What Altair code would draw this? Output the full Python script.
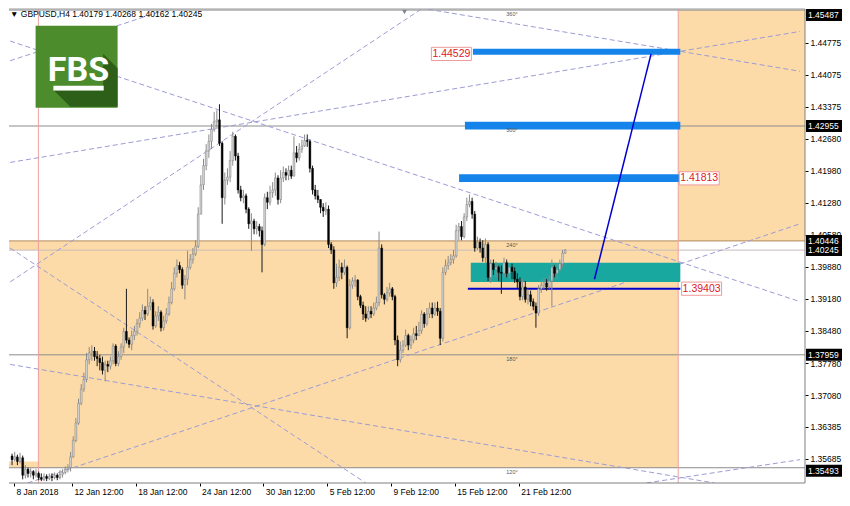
import altair as alt
import pandas as pd

# ------------------------------------------------------------------ data
TITLE = "▼ GBPUSD,H4  1.40179 1.40268 1.40162 1.40245"

FIRST_OPEN = 1.3575
CLOSES = [
    1.3567, 1.3573, 1.3563, 1.3571, 1.3533, 1.3546, 1.3537, 1.3541, 1.3533, 1.3537,
    1.3528, 1.3524, 1.3530, 1.3526, 1.3530, 1.3528, 1.3533, 1.3528, 1.3535, 1.3539,
    1.3546, 1.3550, 1.3573, 1.3609, 1.3647, 1.3690, 1.3721, 1.3742, 1.3785, 1.3800,
    1.3804, 1.3792, 1.3788, 1.3779, 1.3762, 1.3775, 1.3771, 1.3783, 1.3815, 1.3777,
    1.3792, 1.3813, 1.3847, 1.3828, 1.3819, 1.3838, 1.3847, 1.3864, 1.3876, 1.3893,
    1.3885, 1.3902, 1.3910, 1.3859, 1.3881, 1.3889, 1.3855, 1.3870, 1.3885, 1.3910,
    1.3940, 1.3974, 1.3991, 1.3982, 1.3948, 1.3961, 1.3987, 1.4004, 1.4016, 1.4033,
    1.4103, 1.4167, 1.4209, 1.4241, 1.4262, 1.4288, 1.4305, 1.4309, 1.4258, 1.4139,
    1.4177, 1.4184, 1.4220, 1.4273, 1.4230, 1.4156, 1.4139, 1.4143, 1.4114, 1.4082,
    1.4088, 1.4071, 1.4076, 1.4067, 1.4037, 1.4139, 1.4129, 1.4150, 1.4156, 1.4182,
    1.4135, 1.4182, 1.4194, 1.4188, 1.4199, 1.4186, 1.4237, 1.4226, 1.4245, 1.4252,
    1.4264, 1.4262, 1.4203, 1.4156, 1.4143, 1.4135, 1.4118, 1.4110, 1.4114, 1.4037,
    1.4025, 1.3953, 1.3965, 1.3987, 1.3976, 1.3987, 1.3855, 1.3948, 1.3957, 1.3959,
    1.3923, 1.3904, 1.3885, 1.3876, 1.3891, 1.3885, 1.3898, 1.3910, 1.4029, 1.3927,
    1.3917, 1.3931, 1.3940, 1.3923, 1.3828, 1.3785, 1.3806, 1.3817, 1.3838, 1.3817,
    1.3828, 1.3842, 1.3838, 1.3849, 1.3885, 1.3864, 1.3885, 1.3898, 1.3885, 1.3898,
    1.3891, 1.3832, 1.3976, 1.3991, 1.3997, 1.4004, 1.4012, 1.4067, 1.4076, 1.4054,
    1.4097, 1.4124, 1.4131, 1.4103, 1.4029, 1.4042, 1.4029, 1.4008, 1.4037, 1.3965,
    1.3995, 1.3982, 1.3987, 1.3976, 1.3974, 1.3997, 1.3974, 1.3987, 1.3978, 1.3961,
    1.3955, 1.3923, 1.3944, 1.3917, 1.3927, 1.3912, 1.3902, 1.3887, 1.3940, 1.3948,
    1.3953, 1.3944, 1.3957, 1.3987, 1.3974, 1.3982, 1.3995, 1.4018, 1.40245,
]
HIGHS = [
    1.3580, 1.3584, 1.3578, 1.3582, 1.3576, 1.3555, 1.3550, 1.3548, 1.3544, 1.3546,
    1.3541, 1.3537, 1.3537, 1.3535, 1.3537, 1.3537, 1.3539, 1.3537, 1.3544, 1.3546,
    1.3552, 1.3557, 1.3584, 1.3618, 1.3658, 1.3700, 1.3732, 1.3757, 1.3800, 1.3813,
    1.3817, 1.3813, 1.3804, 1.3796, 1.3792, 1.3783, 1.3783, 1.3792, 1.3821, 1.3819,
    1.3804, 1.3821, 1.3855, 1.3940, 1.3834, 1.3849, 1.3859, 1.3874, 1.3889, 1.3906,
    1.3902, 1.3940, 1.3923, 1.3917, 1.3891, 1.3902, 1.3893, 1.3881, 1.3898, 1.3923,
    1.3955, 1.3987, 1.4004, 1.3999, 1.3987, 1.3970, 1.4023, 1.4016, 1.4029, 1.4046,
    1.4118, 1.4188, 1.4224, 1.4256, 1.4277, 1.4300, 1.4326, 1.4330, 1.4343, 1.4262,
    1.4194, 1.4203, 1.4241, 1.4283, 1.4277, 1.4237, 1.4165, 1.4156, 1.4148, 1.4118,
    1.4105, 1.4093, 1.4088, 1.4082, 1.4076, 1.4148, 1.4152, 1.4165, 1.4173, 1.4194,
    1.4188, 1.4199, 1.4207, 1.4203, 1.4209, 1.4209, 1.4273, 1.4252, 1.4258, 1.4266,
    1.4277, 1.4277, 1.4266, 1.4209, 1.4167, 1.4156, 1.4135, 1.4127, 1.4129, 1.4122,
    1.4042, 1.4033, 1.3995, 1.4004, 1.3997, 1.4004, 1.3991, 1.3961, 1.3965, 1.3970,
    1.3961, 1.3927, 1.3912, 1.3902, 1.3902, 1.3902, 1.3910, 1.3923, 1.4065, 1.4037,
    1.3931, 1.3944, 1.3953, 1.3944, 1.3927, 1.3838, 1.3825, 1.3828, 1.3851, 1.3842,
    1.3838, 1.3855, 1.3859, 1.3868, 1.3893, 1.3889, 1.3898, 1.3910, 1.3910, 1.3910,
    1.3912, 1.3898, 1.3987, 1.4004, 1.4012, 1.4016, 1.4025, 1.4080, 1.4084, 1.4088,
    1.4105, 1.4139, 1.4146, 1.4139, 1.4110, 1.4054, 1.4050, 1.4046, 1.4050, 1.4042,
    1.4004, 1.4004, 1.3999, 1.3991, 1.3991, 1.4008, 1.4004, 1.3995, 1.3995, 1.3987,
    1.3974, 1.3965, 1.3961, 1.3957, 1.3940, 1.3936, 1.3919, 1.3910, 1.3948, 1.3961,
    1.3965, 1.3961, 1.3970, 1.4004, 1.3991, 1.3995, 1.4004, 1.4025, 1.40268,
]
LOWS = [
    1.3555, 1.3563, 1.3555, 1.3559, 1.3524, 1.3526, 1.3528, 1.3528, 1.3524, 1.3528,
    1.3522, 1.3520, 1.3520, 1.3520, 1.3522, 1.3520, 1.3524, 1.3522, 1.3524, 1.3528,
    1.3535, 1.3539, 1.3541, 1.3571, 1.3605, 1.3643, 1.3686, 1.3715, 1.3736, 1.3775,
    1.3783, 1.3783, 1.3771, 1.3762, 1.3753, 1.3738, 1.3758, 1.3764, 1.3775, 1.3771,
    1.3771, 1.3785, 1.3800, 1.3821, 1.3811, 1.3806, 1.3828, 1.3838, 1.3855, 1.3870,
    1.3872, 1.3881, 1.3893, 1.3851, 1.3855, 1.3870, 1.3847, 1.3849, 1.3864, 1.3881,
    1.3906, 1.3936, 1.3965, 1.3974, 1.3940, 1.3917, 1.3948, 1.3982, 1.3995, 1.4012,
    1.4029, 1.4103, 1.4156, 1.4199, 1.4226, 1.4245, 1.4283, 1.4292, 1.4252, 1.4082,
    1.4124, 1.4167, 1.4173, 1.4209, 1.4220, 1.4148, 1.4131, 1.4127, 1.4105, 1.4071,
    1.4023, 1.4059, 1.4059, 1.4054, 1.3976, 1.4033, 1.4114, 1.4122, 1.4139, 1.4143,
    1.4124, 1.4127, 1.4173, 1.4177, 1.4177, 1.4180, 1.4186, 1.4216, 1.4220, 1.4237,
    1.4250, 1.4250, 1.4194, 1.4146, 1.4135, 1.4127, 1.4105, 1.4097, 1.4101, 1.4029,
    1.4016, 1.3940, 1.3944, 1.3957, 1.3961, 1.3970, 1.3832, 1.3851, 1.3940, 1.3944,
    1.3915, 1.3898, 1.3872, 1.3868, 1.3872, 1.3876, 1.3881, 1.3893, 1.3902, 1.3919,
    1.3906, 1.3912, 1.3923, 1.3915, 1.3817, 1.3771, 1.3779, 1.3800, 1.3813, 1.3806,
    1.3809, 1.3821, 1.3828, 1.3838, 1.3842, 1.3855, 1.3859, 1.3876, 1.3876, 1.3881,
    1.3881, 1.3817, 1.3825, 1.3970, 1.3982, 1.3991, 1.3995, 1.4008, 1.4046, 1.4046,
    1.4050, 1.4088, 1.4118, 1.4093, 1.4021, 1.4025, 1.4019, 1.3999, 1.3995, 1.3957,
    1.3953, 1.3970, 1.3965, 1.3957, 1.3929, 1.3965, 1.3965, 1.3961, 1.3961, 1.3953,
    1.3940, 1.3915, 1.3915, 1.3910, 1.3906, 1.3902, 1.3893, 1.3855, 1.3881, 1.3931,
    1.3940, 1.3936, 1.3940, 1.3902, 1.3965, 1.3961, 1.3978, 1.3987, 1.40162,
]

DATE_TICKS = [0.73, 22.5, 46.5, 70.5, 94.5, 118.5, 142.5, 166.5, 190.5]
DATE_LABELS = ["8 Jan 2018", "12 Jan 12:00", "18 Jan 12:00", "24 Jan 12:00",
               "30 Jan 12:00", "5 Feb 12:00", "9 Feb 12:00", "15 Feb 12:00",
               "21 Feb 12:00"]
PRICE_TICKS = [1.44775, 1.44075, 1.43375, 1.42680, 1.41980, 1.41280, 1.40580,
               1.39880, 1.39180, 1.38480, 1.37780, 1.37080, 1.36385, 1.35685]
MARKED_TOP = [1.45487]
MARKED_MID = [1.42955, 1.40446, 1.40245, 1.37959]
MARKED_BOTTOM = [1.35493]
GRAY_LEVELS = [1.45487, 1.42955, 1.37959, 1.35493]
ZONE_TOP = [1.40446]
BID = [1.40245]

# orange zones
ZONE_K0 = [9.9, -3.0, -3.0, 250.5]
ZONE_K1 = [250.5, 250.5, 250.5, 300.0]
ZONE_P0 = [1.35493, 1.40245, 1.35493, 1.40446]
ZONE_P1 = [1.40446, 1.40446, 1.3563, 1.45487]
VERTICAL_K = [9.9, 250.5]

# blue target bars
TARGET_K0 = [173.3, 170.3, 168.1]
TARGET_K1 = [251.3, 251.3, 251.3]
TARGET_P0 = [1.4451, 1.4288, 1.4173]
TARGET_P1 = [1.4464, 1.4305, 1.4190]
# teal entry zone
TEAL_K = [172.5, 251.3]
TEAL_P = [1.3955, 1.3997]
# support line
SUPPORT_K = [171.4, 251.3]
SUPPORT_P = [1.39403]
# projection arrow
PROJ_K = [219.0, 240.3]
PROJ_P = [1.3961, 1.4453]

# dashed fan / trend lines: id, k0, p0, k1, p1
FAN_IDS = ["L1", "L2", "L3", "L4", "L5", "L6", "L7", "L8", "L9"]
FAN_K0 = [-0.73, 5.86, -0.73, 238.5, -0.73, -0.73, -0.73, -0.73, 147.6]
FAN_P0 = [1.4481, 1.3516, 1.3775, 1.3516, 1.4029, 1.3955, 1.4216, 1.4438, 1.4559]
FAN_K1 = [296.3, 296.3, 264.1, 296.3, 133.0, 156.0, 296.3, 63.0, 296.3]
FAN_P1 = [1.3912, 1.4082, 1.3516, 1.3567, 1.3516, 1.4559, 1.4502, 1.4559, 1.4415]

# red price labels
LABEL_K = [165.2, 258.4, 259.3]
LABEL_P = [1.44529, 1.41813, 1.39403]

# degree marks
DEG_K = [188.0] * 5
DEG_P = [1.45487, 1.42955, 1.40446, 1.37959, 1.35493]
DEG_T = ["360°", "300°", "240°", "180°", "120°"]

# ------------------------------------------------------------------ frames
W, H = 796, 474
FONT = "Liberation Sans"
xs = alt.Scale(domain=[0.73, 296.3], zero=False, nice=False)
ys = alt.Scale(domain=[1.3516, 1.4551], zero=False, nice=False)

expr = "''"
for kv, lab in reversed(list(zip(DATE_TICKS, DATE_LABELS))):
    expr = f"abs(datum.value - {kv}) < 0.5 ? '{lab}' : ({expr})"

x_axis = alt.Axis(values=DATE_TICKS, labelExpr=expr, title=None, orient="bottom",
                  domain=False, grid=False, ticks=True, tickSize=3, tickColor="#000",
                  labelAlign="left", labelOffset=2, labelPadding=1, labelFont=FONT,
                  labelFontSize=8.5, labelColor="#000", labelOverlap=False,
                  labelFlush=False, labelBound=False)
y_axis = alt.Axis(values=PRICE_TICKS, format=".5f", title=None, orient="right",
                  domain=False, grid=False, ticks=True, tickSize=3, tickColor="#000",
                  labelPadding=2, labelFont=FONT, labelFontSize=8.5, labelColor="#000",
                  labelOverlap=False, labelFlush=False, labelBaseline="middle")


def X(f):
    return alt.X(f, type="quantitative", scale=xs, axis=x_axis)


def Y(f):
    return alt.Y(f, type="quantitative", scale=ys, axis=y_axis)


n = len(CLOSES)
opens = [FIRST_OPEN] + CLOSES[:-1]
df = pd.DataFrame({"k": list(range(n)), "open": opens, "close": CLOSES,
                   "high": HIGHS, "low": LOWS})
df["high"] = df[["high", "open", "close"]].max(axis=1)
df["low"] = df[["low", "open", "close"]].min(axis=1)
up = df[df["close"] >= df["open"]]
dn = df[df["close"] < df["open"]]

one = pd.DataFrame({"z": [0]})

zones = pd.DataFrame({"k0": ZONE_K0, "k1": ZONE_K1, "p0": ZONE_P0, "p1": ZONE_P1})
targets = pd.DataFrame({"k0": TARGET_K0, "k1": TARGET_K1, "p0": TARGET_P0, "p1": TARGET_P1})
teal = pd.DataFrame({"k0": [TEAL_K[0]], "k1": [TEAL_K[1]], "p0": [TEAL_P[0]], "p1": [TEAL_P[1]]})
support = pd.DataFrame({"k0": [SUPPORT_K[0]], "k1": [SUPPORT_K[1]], "p": SUPPORT_P})
proj = pd.DataFrame({"k0": [PROJ_K[0]], "k1": [PROJ_K[1]], "p0": [PROJ_P[0]], "p1": [PROJ_P[1]]})
fan_rows = []
for i, k0, p0, k1, p1 in zip(FAN_IDS, FAN_K0, FAN_P0, FAN_K1, FAN_P1):
    fan_rows.append({"id": i, "k": k0, "p": p0})
    fan_rows.append({"id": i, "k": k1, "p": p1})
fan = pd.DataFrame(fan_rows)
labels = pd.DataFrame({"k": LABEL_K, "p": LABEL_P})
degs = pd.DataFrame({"k": DEG_K, "p": DEG_P, "t": DEG_T})

BOX = "M-1,-0.33L1,-0.33L1,0.33L-1,0.33Z"
SHADOW = "M0.647,-0.318L1,0.035L1,0.976L-0.153,0.976L-0.553,0.576L0.647,0.576Z"

layers = []
# orange zones
layers.append(alt.Chart(zones).mark_rect(color="#FCDBA8", clip=True).encode(
    x=X("k0"), x2="k1", y=Y("p0"), y2="p1"))
# horizontal levels
layers.append(alt.Chart(pd.DataFrame({"p": GRAY_LEVELS})).mark_rule(
    color="#8c8c8c", strokeWidth=1).encode(y=Y("p")))
layers.append(alt.Chart(pd.DataFrame({"p": ZONE_TOP})).mark_rule(
    color="#B08A5E", strokeWidth=1).encode(y=Y("p")))
layers.append(alt.Chart(pd.DataFrame({"p": BID})).mark_rule(
    color="#C9BCBC", strokeWidth=1).encode(y=Y("p")))
# vertical lines
layers.append(alt.Chart(pd.DataFrame({"k": VERTICAL_K})).mark_rule(
    color="#EFA0A0", strokeWidth=1).encode(x=X("k")))
# dashed fan lines
layers.append(alt.Chart(fan).mark_line(color="#9C9CD6", strokeWidth=1,
                                       strokeDash=[5, 3], clip=True).encode(
    x=X("k"), y=Y("p"), detail="id:N"))
# targets and entry zone
layers.append(alt.Chart(targets).mark_rect(color="#1483EA", clip=True).encode(
    x=X("k0"), x2="k1", y=Y("p0"), y2="p1"))
layers.append(alt.Chart(teal).mark_rect(color="#19A89F", clip=True).encode(
    x=X("k0"), x2="k1", y=Y("p0"), y2="p1"))
layers.append(alt.Chart(support).mark_rule(color="#0000CD", strokeWidth=2).encode(
    x=X("k0"), x2="k1", y=Y("p")))
# candles
layers.append(alt.Chart(up).mark_rule(color="#8a8a8a", strokeWidth=1, clip=True).encode(
    x=X("k"), y=Y("low"), y2="high"))
layers.append(alt.Chart(dn).mark_rule(color="#1a1a1a", strokeWidth=1, clip=True).encode(
    x=X("k"), y=Y("low"), y2="high"))
layers.append(alt.Chart(up).mark_bar(width=1.8, fill="#d8d8d8", stroke="#7a7a7a",
                                     strokeWidth=0.5, clip=True).encode(
    x=X("k"), y=Y("open"), y2="close"))
layers.append(alt.Chart(dn).mark_bar(width=1.8, fill="#000000", stroke="#000000",
                                     strokeWidth=0.5, clip=True).encode(
    x=X("k"), y=Y("open"), y2="close"))
# projection line
layers.append(alt.Chart(proj).mark_rule(color="#0000D0", strokeWidth=1.5).encode(
    x=X("k0"), x2="k1", y=Y("p0"), y2="p1"))
# red price labels
layers.append(alt.Chart(labels).mark_point(shape=BOX, size=1600, filled=True, fill="white",
                                           stroke="#EE9A9A", strokeWidth=1, opacity=1).encode(
    x=X("k"), y=Y("p")))
layers.append(alt.Chart(labels).mark_text(font=FONT, fontSize=10.5, color="#E0181E",
                                          align="center", baseline="middle").encode(
    x=X("k"), y=Y("p"), text=alt.Text("p:Q", format=".5f")))
# degree marks
layers.append(alt.Chart(degs).mark_text(font=FONT, fontSize=5.5, color="#555555", dy=4).encode(
    x=X("k"), y=Y("p"), text="t:N"))
# logo
layers.append(alt.Chart(one).mark_point(shape="square", size=82 * 82, filled=True,
                                        color="#4C8C2C", opacity=1).encode(
    x=alt.value(67.6), y=alt.value(57.8)))
layers.append(alt.Chart(one).mark_point(shape=SHADOW, size=82 * 82, filled=True,
                                        color="#2D5F18", opacity=1).encode(
    x=alt.value(67.6), y=alt.value(57.8)))
layers.append(alt.Chart(one).mark_text(text="FBS", font="'Liberation Sans Narrow', Roboto, sans-serif",
                                       fontSize=34, fontWeight="bold", color="white",
                                       align="center", baseline="alphabetic").encode(
    x=alt.value(69.5), y=alt.value(72)))
layers.append(alt.Chart(one).mark_rect(color="white").encode(
    x=alt.value(44.4), x2=alt.value(94.7), y=alt.value(76.7), y2=alt.value(81.6)))
# title
layers.append(alt.Chart(one).mark_text(text=TITLE, font=FONT, fontSize=8.5, color="#000",
                                       align="left", baseline="top").encode(
    x=alt.value(1), y=alt.value(1)))
layers.append(alt.Chart(one).mark_point(shape="triangle-down", size=25, filled=True,
                                        color="#7d8896", opacity=1).encode(
    x=alt.value(395.5), y=alt.value(3)))
# frame
layers.append(alt.Chart(one).mark_rule(color="#9a9a9a").encode(
    x=alt.value(0), x2=alt.value(W), y=alt.value(0)))
layers.append(alt.Chart(one).mark_rule(color="#808080").encode(
    x=alt.value(0), x2=alt.value(W), y=alt.value(H)))
layers.append(alt.Chart(one).mark_rule(color="#808080").encode(
    x=alt.value(W), y=alt.value(0), y2=alt.value(H)))
# marked levels on the price axis (boxes nudged inside the frame at the edges)
for levels, off in ((MARKED_TOP, 5), (MARKED_MID, 0), (MARKED_BOTTOM, 3)):
    mdf = pd.DataFrame({"p": levels})
    layers.append(alt.Chart(mdf).mark_point(shape=BOX, size=36 * 36, filled=True,
                                            color="#000000", opacity=1, clip=False,
                                            yOffset=off).encode(
        x=alt.value(W + 19), y=Y("p")))
    layers.append(alt.Chart(mdf).mark_text(font=FONT, fontSize=8.5, color="white",
                                           align="left", baseline="middle", clip=False,
                                           yOffset=off).encode(
        x=alt.value(W + 3), y=Y("p"), text=alt.Text("p:Q", format=".5f")))

chart = alt.layer(*layers).properties(
    width=W, height=H, padding=0, background="white"
).configure_view(stroke=None)

chart.save("out.html", embed_options={"renderer": "svg", "actions": False})
